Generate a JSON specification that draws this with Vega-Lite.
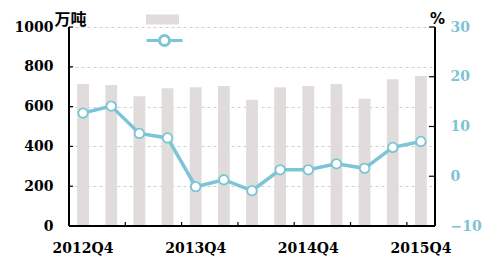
{
  "$schema": "https://vega.github.io/schema/vega-lite/v6.json",
  "width": 366,
  "height": 199,
  "autosize": {"type": "none"},
  "padding": {"left": 69, "top": 27, "right": 65, "bottom": 42},
  "background": "white",
  "config": {
    "view": {"stroke": null},
    "axis": {
      "labelFont": "DejaVu Serif",
      "labelFontWeight": "bold",
      "labelFontSize": 14,
      "labelColor": "black",
      "domain": false,
      "ticks": false
    },
    "axisLeft": {
      "format": "d",
      "values": [0, 200, 400, 600, 800, 1000],
      "labelOverlap": false,
      "grid": true,
      "gridDash": [3, 3],
      "gridColor": "#cfcfcf",
      "gridWidth": 1,
      "labelPadding": 16,
      "titleAngle": 0,
      "titleFont": "Noto Sans CJK SC",
      "titleFontWeight": "bold",
      "titleFontSize": 16,
      "titleColor": "black",
      "titleAlign": "center",
      "titleBaseline": "bottom",
      "titleX": 1,
      "titleY": 0
    }
  },
  "data": {
    "values": [
      {"q": "2012Q4", "output": 714, "growth": 12.7},
      {"q": "2013Q1", "output": 709, "growth": 14.1},
      {"q": "2013Q2", "output": 652, "growth": 8.6},
      {"q": "2013Q3", "output": 692, "growth": 7.7},
      {"q": "2013Q4", "output": 697, "growth": -2.1},
      {"q": "2014Q1", "output": 703, "growth": -0.7},
      {"q": "2014Q2", "output": 635, "growth": -2.9},
      {"q": "2014Q3", "output": 697, "growth": 1.3},
      {"q": "2014Q4", "output": 703, "growth": 1.3},
      {"q": "2015Q1", "output": 714, "growth": 2.5},
      {"q": "2015Q2", "output": 640, "growth": 1.6},
      {"q": "2015Q3", "output": 737, "growth": 5.8},
      {"q": "2015Q4", "output": 754, "growth": 7.0}
    ]
  },
  "layer": [
    {
      "layer": [
        {
          "mark": {"type": "bar", "width": {"band": 0.42}},
          "encoding": {
            "x": {
              "field": "q",
              "type": "ordinal",
              "sort": null,
              "scale": {"paddingInner": 0, "paddingOuter": 0},
              "axis": {
                "title": null,
                "labelAngle": 0,
                "labelExpr": "indexof(datum.value, 'Q4') > 0 ? datum.value : ''",
                "labelPadding": 15,
                "grid": false
              }
            },
            "y": {
              "field": "output",
              "type": "quantitative",
              "scale": {"domain": [0, 1000]},
              "axis": {"orient": "left", "title": "万吨"}
            },
            "color": {
              "datum": "产量",
              "scale": {"range": ["#E0DCDC"]},
              "legend": {
                "orient": "none",
                "legendX": 77,
                "legendY": -24,
                "title": null,
                "padding": 0,
                "labelExpr": "''",
                "symbolType": "M-1,-0.3H1V0.3H-1Z",
                "symbolSize": 1089,
                "symbolStrokeWidth": 0
              }
            }
          }
        },
        {
          "mark": {"type": "rule", "color": "black", "strokeWidth": 1.5},
          "encoding": {"y": {"datum": 0, "type": "quantitative", "axis": {"orient": "left", "title": "万吨"}}}
        },
        {
          "mark": {"type": "rule", "color": "black", "strokeWidth": 1.5},
          "encoding": {"x": {"datum": "2012Q4", "type": "ordinal", "bandPosition": 0}}
        },
        {
          "mark": {"type": "rule", "color": "black", "strokeWidth": 1.5},
          "encoding": {"x": {"datum": "2015Q4", "type": "ordinal", "bandPosition": 1}}
        },
        {
          "data": {"values": [{"q": "2013Q2"}, {"q": "2013Q4"}, {"q": "2014Q2"}, {"q": "2014Q4"}, {"q": "2015Q2"}, {"q": "2015Q4"}]},
          "mark": {"type": "rule", "color": "black", "strokeWidth": 1.2},
          "encoding": {
            "x": {"field": "q", "type": "ordinal", "bandPosition": 0},
            "y": {"datum": 0, "type": "quantitative", "axis": {"orient": "left", "title": "万吨"}},
            "y2": {"datum": 20}
          }
        },
        {
          "data": {"values": [{"v": 200}, {"v": 400}, {"v": 600}, {"v": 800}, {"v": 1000}]},
          "mark": {"type": "rule", "color": "black", "strokeWidth": 1.2, "x2Offset": -10},
          "encoding": {
            "x": {"datum": "2012Q4", "type": "ordinal", "bandPosition": 0},
            "x2": {"datum": "2012Q4"},
            "y": {"field": "v", "type": "quantitative", "axis": {"orient": "left", "title": "万吨"}}
          }
        }
      ]
    },
    {
      "layer": [
        {
          "mark": {"type": "line", "strokeWidth": 3.5},
          "encoding": {
            "x": {"field": "q", "type": "ordinal", "sort": null},
            "y": {
              "field": "growth",
              "type": "quantitative",
              "scale": {"domain": [-10, 30]},
              "axis": {
                "orient": "right",
                "values": [-10, 0, 10, 20, 30],
                "labelOverlap": false,
                "grid": false,
                "labelPadding": 15,
                "labelColor": "#7DC3D4",
                "title": "%",
                "titleAngle": 0,
                "titleFont": "DejaVu Sans",
                "titleFontWeight": "bold",
                "titleFontSize": 15,
                "titleColor": "black",
                "titleAlign": "center",
                "titleBaseline": "bottom",
                "titleX": 2,
                "titleY": -1
              }
            },
            "stroke": {
              "datum": "增速",
              "scale": {"range": ["#7CC5D6"]},
              "legend": {
                "orient": "none",
                "legendX": 76,
                "legendY": -6,
                "title": null,
                "padding": 0,
                "labelExpr": "''",
                "symbolType": "M-1,0H-0.28A0.28,0.28 0 1 1 0.28,0A0.28,0.28 0 1 1 -0.28,0M0.28,0H1",
                "symbolSize": 1296,
                "symbolFillColor": "white",
                "symbolStrokeWidth": 3
              }
            }
          }
        },
        {
          "mark": {"type": "point", "filled": true, "fill": "white", "strokeWidth": 1.8, "size": 90, "opacity": 1},
          "encoding": {
            "x": {"field": "q", "type": "ordinal", "sort": null},
            "y": {"field": "growth", "type": "quantitative"},
            "stroke": {"datum": "增速"}
          }
        },
        {
          "data": {"values": [{"v": -10}, {"v": 0}, {"v": 10}, {"v": 20}, {"v": 30}]},
          "mark": {"type": "rule", "color": "black", "strokeWidth": 1.2, "x2Offset": 8},
          "encoding": {
            "x": {"datum": "2015Q4", "type": "ordinal", "bandPosition": 1},
            "x2": {"datum": "2015Q4"},
            "y": {"field": "v", "type": "quantitative"}
          }
        }
      ]
    }
  ],
  "resolve": {"scale": {"y": "independent"}}
}
